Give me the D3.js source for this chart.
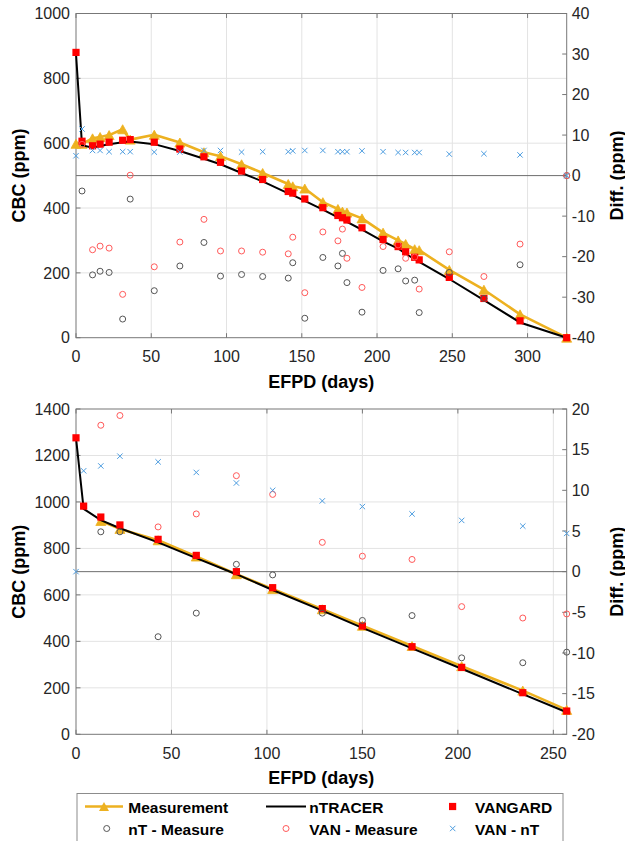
<!DOCTYPE html>
<html>
<head>
<meta charset="utf-8">
<script src="https://d3js.org/d3.v7.min.js"></script>
<style>
  body { margin: 0; background: #fff; }
  svg { display: block; font-family: "Liberation Sans", Arial, Helvetica, sans-serif; }
  .tick-label { font-size: 16px; fill: #262626; }
  .axis-title { font-size: 18px; font-weight: bold; fill: #000; }
  .legend-text { font-size: 15.5px; font-weight: bold; fill: #000; }
</style>
</head>
<body>
<div id="chart"></div>
<script>
// ---- data ----
// upper panel (cycle 1)
var topDays = [0, 4, 11, 16, 22, 31, 36, 52, 69, 85, 96, 110, 124, 141, 144, 152, 164, 174, 177, 180, 190, 204, 214, 219, 225, 228, 248, 271, 295, 326];
var topMeasurement = [598, 598, 615, 619, 625, 643, 611, 626, 602, 572, 560, 535, 508, 474, 467, 460, 418, 397, 389, 386, 368, 324, 300, 289, 273, 270, 209, 148, 72, 0];
var topNtracer = [876, 594, 586, 591, 597, 603, 605, 597, 576, 552, 535, 508, 482, 445, 440, 422, 395, 371, 364, 357, 333, 297, 275, 259, 242, 234, 181, 116, 47, 0];
var topVangard = [880, 606, 592, 597, 603, 609, 611, 603, 582, 558, 541, 514, 488, 451, 446, 428, 401, 377, 370, 363, 339, 303, 281, 265, 248, 240, 186, 121, 52, 0];
var topNtMinusMeas = [null, -3.8, -24.5, -23.6, -23.9, -35.4, -5.8, -28.4, -22.3, -16.5, -24.8, -24.4, -24.9, -25.3, -21.5, -35.2, -20.2, -22.3, -19.2, -26.4, -33.7, -23.4, -23.0, -26.0, -25.8, -33.8, -23.9, -30.3, -22.0, 0];
var topVanMinusMeas = [null, 7.7, -18.3, -17.4, -17.9, -29.3, 0.1, -22.5, -16.4, -10.8, -18.6, -18.6, -18.9, -19.3, -15.2, -28.9, -13.9, -16.1, -13.2, -20.4, -27.6, -17.5, -17.1, -20.4, -20.1, -28.0, -18.8, -24.9, -16.9, 0];
var topVanMinusNt = [4.9, 11.5, 6.2, 6.2, 5.9, 5.9, 5.9, 5.8, 5.8, 6.2, 6.2, 5.8, 5.9, 5.9, 6.1, 6.2, 6.2, 5.9, 5.9, 5.9, 6.1, 5.9, 5.7, 5.7, 5.7, 5.7, 5.3, 5.4, 5.1, 0];

// lower panel (cycle 2)
var botDays = [0, 4, 13, 23, 43, 63, 84, 103, 129, 150, 176, 202, 234, 257];
var botMeasurement = [null, null, 918, 884, 835, 765, 689, 625, 538, 467, 380, 293, 188, 105];
var botNtracer = [1276, 970, 922, 887, 826, 758, 689, 621, 532, 458, 370, 282, 173, 95];
var botVangard = [1276, 982, 935, 901, 839, 770, 700, 631, 541, 466, 377, 288, 179, 100];
var botNtMinusMeas = [null, null, 4.9, 4.9, -8.0, -5.1, 0.9, -0.4, -5.1, -6.0, -5.4, -10.6, -11.2, -9.9];
var botVanMinusMeas = [null, null, 18.0, 19.2, 5.5, 7.1, 11.8, 9.5, 3.6, 1.9, 1.5, -4.3, -5.7, -5.2];
var botVanMinusNt = [0, 12.4, 13.0, 14.2, 13.5, 12.2, 10.9, 10.0, 8.7, 8.0, 7.1, 6.3, 5.6, 4.7];

// tick values
var topXTicks = [0, 50, 100, 150, 200, 250, 300];
var topLeftTicks = [0, 200, 400, 600, 800, 1000];
var topRightTicks = [-40, -30, -20, -10, 0, 10, 20, 30, 40];
var botXTicks = [0, 50, 100, 150, 200, 250];
var botLeftTicks = [0, 200, 400, 600, 800, 1000, 1200, 1400];
var botRightTicks = [-20, -15, -10, -5, 0, 5, 10, 15, 20];

// colours
var cMeas = "#EDB120", cNt = "#000000", cVan = "#FF0000";
var cNtM = "#555555", cVanM = "#FF5A5A", cVanNt = "#4D9DE0";

var W = 625, H = 841;
var svg = d3.select("#chart").append("svg")
    .attr("width", W)
    .attr("height", H);
svg.append("rect").attr("width", W).attr("height", H).attr("fill", "#fff");

// marker helpers
function triPath(w, h) {
  return "M0," + (-h / 2) + "L" + (w / 2) + "," + (h / 2) + "L" + (-w / 2) + "," + (h / 2) + "Z";
}
function crossPath(s) {
  return "M" + (-s) + "," + (-s) + "L" + s + "," + s + "M" + (-s) + "," + s + "L" + s + "," + (-s);
}

function drawPanel(p) {
  var g = svg.append("g");
  var x = d3.scaleLinear().domain([0, d3.max(p.days)]).range([p.left, p.right]);
  var yL = d3.scaleLinear().domain(d3.extent(p.leftTicks)).range([p.bottom, p.top]);
  var yR = d3.scaleLinear().domain(d3.extent(p.rightTicks)).range([p.bottom, p.top]);

  // grid
  g.selectAll(".vgrid").data(p.xTicks.filter(function(d) { return d > 0; }))
    .enter().append("line")
      .attr("x1", function(d) { return x(d); }).attr("x2", function(d) { return x(d); })
      .attr("y1", p.top).attr("y2", p.bottom)
      .attr("stroke", "#e3e3e3").attr("stroke-width", 1);
  g.selectAll(".hgrid").data(p.leftTicks.slice(1, -1))
    .enter().append("line")
      .attr("x1", p.left).attr("x2", p.right)
      .attr("y1", function(d) { return yL(d); }).attr("y2", function(d) { return yL(d); })
      .attr("stroke", "#e3e3e3").attr("stroke-width", 1);

  // zero line of the difference axis
  g.append("line")
    .attr("x1", p.left).attr("x2", p.right)
    .attr("y1", yR(0)).attr("y2", yR(0))
    .attr("stroke", "#6e6e6e").attr("stroke-width", 1);

  // box + ticks
  g.append("rect")
    .attr("x", p.left).attr("y", p.top)
    .attr("width", p.right - p.left).attr("height", p.bottom - p.top)
    .attr("fill", "none").attr("stroke", "#777").attr("stroke-width", 1);
  var tl = 4.5;
  p.xTicks.forEach(function(t) {
    g.append("line").attr("x1", x(t)).attr("x2", x(t)).attr("y1", p.bottom).attr("y2", p.bottom - tl).attr("stroke", "#777");
    g.append("line").attr("x1", x(t)).attr("x2", x(t)).attr("y1", p.top).attr("y2", p.top + tl).attr("stroke", "#777");
    g.append("text").attr("class", "tick-label")
      .attr("x", x(t)).attr("y", p.bottom + 24.5)
      .attr("text-anchor", "middle").text(t);
  });
  p.leftTicks.forEach(function(t) {
    g.append("line").attr("x1", p.left).attr("x2", p.left + tl).attr("y1", yL(t)).attr("y2", yL(t)).attr("stroke", "#777");
    g.append("text").attr("class", "tick-label")
      .attr("x", p.left - 6).attr("y", yL(t)).attr("dy", "0.36em")
      .attr("text-anchor", "end").text(t);
  });
  p.rightTicks.forEach(function(t) {
    g.append("line").attr("x1", p.right).attr("x2", p.right - tl).attr("y1", yR(t)).attr("y2", yR(t)).attr("stroke", "#777");
    g.append("text").attr("class", "tick-label")
      .attr("x", p.right + 5).attr("y", yR(t)).attr("dy", "0.36em")
      .attr("text-anchor", "start").text(t);
  });

  // axis titles
  var midY = (p.top + p.bottom) / 2;
  g.append("text").attr("class", "axis-title")
    .attr("transform", "translate(" + ((p.left + p.right) / 2) + "," + (p.bottom + 50) + ")")
    .attr("text-anchor", "middle").text("EFPD (days)");
  g.append("text").attr("class", "axis-title")
    .attr("transform", "translate(24.5," + midY + ") rotate(-90)")
    .attr("text-anchor", "middle").text("CBC (ppm)");
  g.append("text").attr("class", "axis-title")
    .attr("transform", "translate(622.5," + midY + ") rotate(-90)")
    .attr("text-anchor", "middle").text("Diff. (ppm)");

  function pts(vals) {
    return p.days.map(function(d, i) { return { d: d, v: vals[i] }; })
      .filter(function(o) { return o.v !== null; });
  }

  // measurement
  var meas = pts(p.meas);
  g.append("path").datum(meas)
    .attr("d", d3.line().x(function(o) { return x(o.d); }).y(function(o) { return yL(o.v); }))
    .attr("fill", "none").attr("stroke", cMeas).attr("stroke-width", 2.6).attr("stroke-linejoin", "round");
  g.selectAll(".tri").data(meas).enter().append("path")
    .attr("transform", function(o) { return "translate(" + x(o.d) + "," + yL(o.v) + ")"; })
    .attr("d", triPath(10, 9)).attr("fill", cMeas).attr("stroke", cMeas).attr("stroke-width", 0.8);

  // nTRACER
  g.append("path").datum(pts(p.nt))
    .attr("d", d3.line().x(function(o) { return x(o.d); }).y(function(o) { return yL(o.v); }))
    .attr("fill", "none").attr("stroke", cNt).attr("stroke-width", 2);

  // VANGARD
  g.selectAll(".sq").data(pts(p.van)).enter().append("rect")
    .attr("x", function(o) { return x(o.d) - 3.6; })
    .attr("y", function(o) { return yL(o.v) - 3.6; })
    .attr("width", 7.2).attr("height", 7.2).attr("fill", cVan);

  // differences (right axis)
  g.selectAll(".ntm").data(pts(p.ntm)).enter().append("circle")
    .attr("cx", function(o) { return x(o.d); }).attr("cy", function(o) { return yR(o.v); })
    .attr("r", 3).attr("fill", "none").attr("stroke", cNtM).attr("stroke-width", 1);
  g.selectAll(".vanm").data(pts(p.vanm)).enter().append("circle")
    .attr("cx", function(o) { return x(o.d); }).attr("cy", function(o) { return yR(o.v); })
    .attr("r", 3).attr("fill", "none").attr("stroke", cVanM).attr("stroke-width", 1);
  g.selectAll(".vannt").data(pts(p.vannt)).enter().append("path")
    .attr("transform", function(o) { return "translate(" + x(o.d) + "," + yR(o.v) + ")"; })
    .attr("d", crossPath(2.7)).attr("fill", "none").attr("stroke", cVanNt).attr("stroke-width", 1);
}

drawPanel({
  left: 76, right: 566.7, top: 13.5, bottom: 337.7,
  days: topDays, meas: topMeasurement, nt: topNtracer, van: topVangard,
  ntm: topNtMinusMeas, vanm: topVanMinusMeas, vannt: topVanMinusNt,
  xTicks: topXTicks, leftTicks: topLeftTicks, rightTicks: topRightTicks
});
drawPanel({
  left: 76, right: 566.7, top: 409, bottom: 734.3,
  days: botDays, meas: botMeasurement, nt: botNtracer, van: botVangard,
  ntm: botNtMinusMeas, vanm: botVanMinusMeas, vannt: botVanMinusNt,
  xTicks: botXTicks, leftTicks: botLeftTicks, rightTicks: botRightTicks
});

// legend
var lg = svg.append("g");
lg.append("rect").attr("x", 77).attr("y", 793.5).attr("width", 486).attr("height", 60)
  .attr("fill", "#fff").attr("stroke", "#8c8c8c").attr("stroke-width", 1);
var r1 = 806.5, r2 = 828.5;
lg.append("line").attr("x1", 85).attr("x2", 123).attr("y1", r1).attr("y2", r1).attr("stroke", cMeas).attr("stroke-width", 2.6);
lg.append("path").attr("transform", "translate(104," + r1 + ")").attr("d", triPath(10, 9)).attr("fill", cMeas);
lg.append("line").attr("x1", 266).attr("x2", 306).attr("y1", r1).attr("y2", r1).attr("stroke", cNt).attr("stroke-width", 2);
lg.append("rect").attr("x", 449).attr("y", r1 - 3.6).attr("width", 7.2).attr("height", 7.2).attr("fill", cVan);
lg.append("circle").attr("cx", 106.7).attr("cy", r2).attr("r", 3).attr("fill", "none").attr("stroke", cNtM);
lg.append("circle").attr("cx", 286).attr("cy", r2).attr("r", 3).attr("fill", "none").attr("stroke", cVanM);
lg.append("path").attr("transform", "translate(452.7," + r2 + ")").attr("d", crossPath(2.7)).attr("stroke", cVanNt).attr("fill", "none");

var legendItems = [
  { t: "Measurement", x: 128.3, y: 813 },
  { t: "nTRACER", x: 309.3, y: 813 },
  { t: "VANGARD", x: 475, y: 813 },
  { t: "nT - Measure", x: 128.3, y: 834.5 },
  { t: "VAN - Measure", x: 309.3, y: 834.5 },
  { t: "VAN - nT", x: 475, y: 834.5 }
];
lg.selectAll(".lt").data(legendItems).enter().append("text")
  .attr("class", "legend-text")
  .attr("x", function(d) { return d.x; }).attr("y", function(d) { return d.y; })
  .text(function(d) { return d.t; });
</script>
</body>
</html>
